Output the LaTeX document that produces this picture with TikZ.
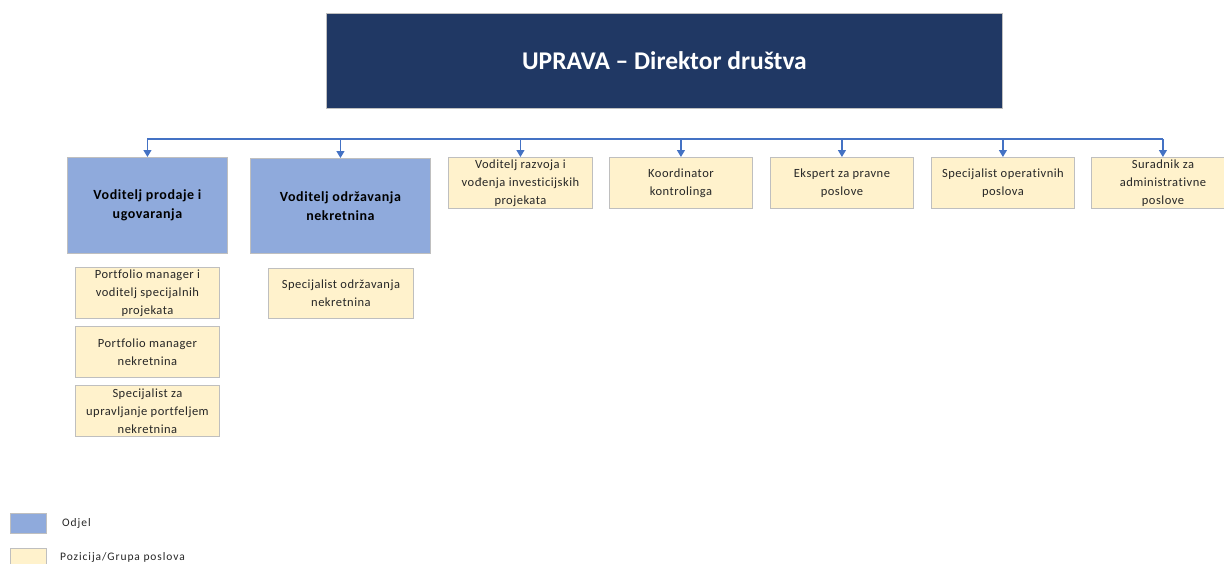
\documentclass[tikz,border=0pt]{standalone}
\usepackage{fontspec}
\setmainfont{Carlito}
\newfontfamily\spacedfont[LetterSpace=4,Ligatures=CommonOff]{Carlito}
\newfontfamily\widefont[LetterSpace=8,Ligatures=CommonOff]{Carlito}
\usetikzlibrary{arrows.meta}
\definecolor{navy}{HTML}{203864}
\definecolor{odjel}{HTML}{8FAADC}
\definecolor{pozicija}{HTML}{FFF2CC}
\definecolor{conncol}{HTML}{4472C4}
\definecolor{edge}{HTML}{BFBFBF}
\tikzset{
  boxbase/.style={draw=edge, line width=0.9pt, anchor=north west, align=center, inner sep=2pt},
  topbox/.style={boxbase, fill=navy, text=white, font=\fontsize{25.5}{30}\selectfont\bfseries},
  deptbox/.style={boxbase, fill=odjel, text=black, font=\spacedfont\fontsize{14}{19}\selectfont\bfseries},
  posbox/.style={boxbase, fill=pozicija, text=black!85, font=\spacedfont\fontsize{12.5}{18}\selectfont},
  legendbox/.style={draw=edge, line width=0.9pt, anchor=north west, inner sep=0pt},
  legendtext/.style={anchor=west, inner sep=0pt, text=black!85, font=\widefont\fontsize{11.5}{13}\selectfont},
  bus/.style={draw=conncol, line width=1.3pt},
  conn/.style={draw=conncol, line width=1.3pt, -{Triangle[width=8pt,length=7pt]}}
}
\begin{document}
\begin{tikzpicture}[x=1pt,y=-1pt]
\useasboundingbox (0,0) rectangle (1224,563);
% top
\node[topbox, minimum width=676pt, minimum height=95pt] (top) at (326,13) {UPRAVA – Direktor društva};
% departments
\node[deptbox, minimum width=160pt, minimum height=96pt] (d1) at (67,157) {Voditelj prodaje i\\ugovaranja};
\node[deptbox, minimum width=180pt, minimum height=95pt] (d2) at (250,158) {Voditelj održavanja\\nekretnina};
% positions top row
\node[posbox, minimum width=144pt, minimum height=51pt] (p3) at (448,157) {Voditelj razvoja i\\vođenja investicijskih\\projekata};
\node[posbox, minimum width=143pt, minimum height=51pt] (p4) at (609,157) {Koordinator\\kontrolinga};
\node[posbox, minimum width=143pt, minimum height=51pt] (p5) at (770,157) {Ekspert za pravne\\poslove};
\node[posbox, minimum width=143pt, minimum height=51pt] (p6) at (931,157) {Specijalist operativnih\\poslova};
\node[posbox, minimum width=143pt, minimum height=51pt] (p7) at (1091,157) {Suradnik za\\administrativne\\poslove};
% sub positions
\node[posbox, minimum width=144pt, minimum height=51pt] (s1) at (75,267) {Portfolio manager i\\voditelj specijalnih\\projekata};
\node[posbox, minimum width=144pt, minimum height=51pt] (s2) at (75,326) {Portfolio manager\\nekretnina};
\node[posbox, minimum width=144pt, minimum height=51pt] (s3) at (75,385) {Specijalist za\\upravljanje portfeljem\\nekretnina};
\node[posbox, minimum width=145pt, minimum height=50pt] (s4) at (268,268) {Specijalist održavanja\\nekretnina};
% bus and connectors
\coordinate (busL) at (147,139);
\coordinate (busR) at (1163,139);
\draw[bus] (busL) -- (busR);
\foreach \n in {d1,d2,p3,p4,p5,p6,p7}{
  \draw[conn] (\n.north |- busL) -- (\n.north);
}
% legend
\node[legendbox, fill=odjel, minimum width=36pt, minimum height=20pt] (l1) at (10,513) {};
\node[legendtext] (l1t) at (62,523) {Odjel};
\node[legendbox, fill=pozicija, minimum width=36pt, minimum height=20pt] (l2) at (10,548) {};
\node[legendtext] (l2t) at (60,557) {Pozicija/Grupa poslova};
\end{tikzpicture}
\end{document}
